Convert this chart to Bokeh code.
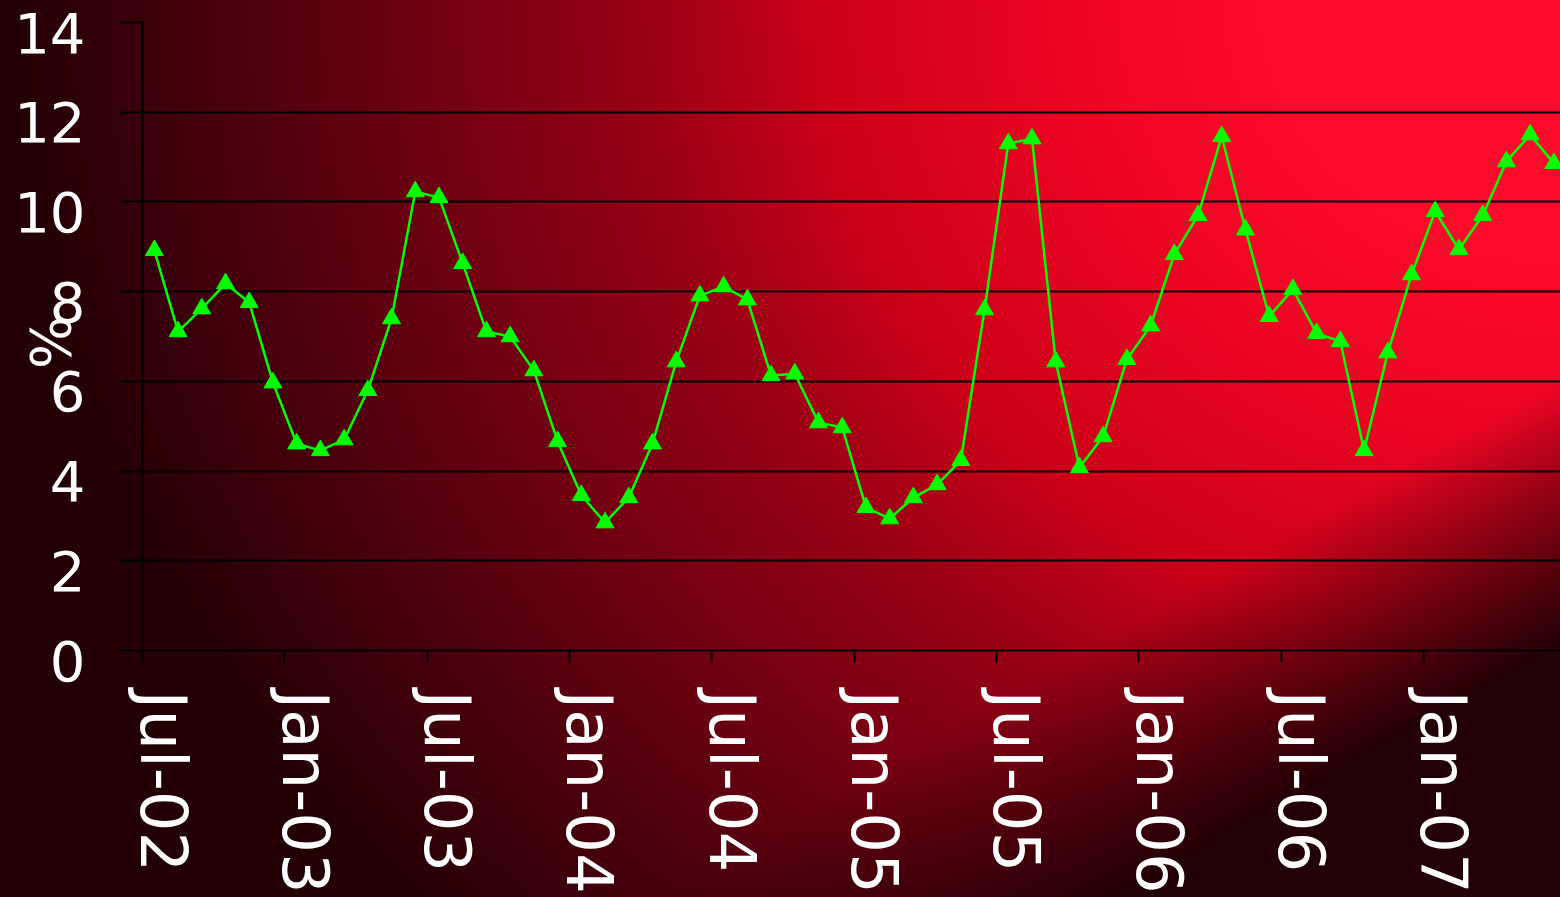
from bokeh.plotting import figure
from bokeh.models import Range1d, LinearAxis, FixedTicker, Grid
from bokeh.embed import file_html
from bokeh.resources import INLINE

months = [
    "Jul-02", "Aug-02", "Sep-02", "Oct-02", "Nov-02", "Dec-02",
    "Jan-03", "Feb-03", "Mar-03", "Apr-03", "May-03", "Jun-03",
    "Jul-03", "Aug-03", "Sep-03", "Oct-03", "Nov-03", "Dec-03",
    "Jan-04", "Feb-04", "Mar-04", "Apr-04", "May-04", "Jun-04",
    "Jul-04", "Aug-04", "Sep-04", "Oct-04", "Nov-04", "Dec-04",
    "Jan-05", "Feb-05", "Mar-05", "Apr-05", "May-05", "Jun-05",
    "Jul-05", "Aug-05", "Sep-05", "Oct-05", "Nov-05", "Dec-05",
    "Jan-06", "Feb-06", "Mar-06", "Apr-06", "May-06", "Jun-06",
    "Jul-06", "Aug-06", "Sep-06", "Oct-06", "Nov-06", "Dec-06",
    "Jan-07", "Feb-07", "Mar-07", "Apr-07", "May-07", "Jun-07",
]
rate = [
    8.92, 7.11, 7.62, 8.18, 7.76, 5.97,
    4.61, 4.46, 4.70, 5.80, 7.40, 10.23,
    10.10, 8.63, 7.11, 7.00, 6.24, 4.66,
    3.46, 2.85, 3.41, 4.61, 6.44, 7.91,
    8.11, 7.82, 6.13, 6.17, 5.08, 4.97,
    3.19, 2.94, 3.41, 3.70, 4.24, 7.60,
    11.30, 11.41, 6.44, 4.08, 4.77, 6.49,
    7.24, 8.83, 9.70, 11.46, 9.38, 7.45,
    8.05, 7.07, 6.89, 4.46, 6.64, 8.38,
    9.79, 8.94, 9.70, 10.90, 11.50, 10.86,
]
tick_months = ["Jul-02", "Jan-03", "Jul-03", "Jan-04", "Jul-04",
               "Jan-05", "Jul-05", "Jan-06", "Jul-06", "Jan-07"]
y_ticks = [0, 2, 4, 6, 8, 10, 12, 14]

x = [i + 0.5 for i in range(len(months))]
tick_pos = [months.index(m) for m in tick_months]

W, H = 1560, 897
FRAME_W = 1418
PX_PER_MONTH = 23.72
X_END = FRAME_W / PX_PER_MONTH
PX_PER_UNIT = 44.86
EXTRA_BOTTOM_PX = 12
Y_START = -EXTRA_BOTTOM_PX / PX_PER_UNIT
FONT = "DejaVu Sans"

p = figure(width=W, height=H, output_backend="svg", toolbar_location=None,
           x_range=Range1d(0, X_END), y_range=Range1d(Y_START, 14),
           x_axis_type=None, y_axis_type=None,
           min_border_left=142, min_border_right=0,
           min_border_top=22, min_border_bottom=235)
p.background_fill_color = None
p.border_fill_color = None
p.outline_line_color = None
p.styles = {
    "background": (
        "linear-gradient(to bottom right, rgba(34,0,5,0) 0%, rgba(34,0,5,0) 71%, rgba(34,0,5,1) 86%), "
        "radial-gradient(ellipse 1600px 1400px at 100% 0%, #ff0a2a 0%, #ff0a2a 18%, #f20525 28%, "
        "#cc0018 46%, #9a0015 57%, #5a000f 78%, #220004 97%)"
    )
}

# label ranges: tick labels sit slightly right of / below their ticks
dx = 20 / PX_PER_MONTH
dy = 10 / PX_PER_UNIT
p.extra_x_ranges = {"xlab": Range1d(-dx, X_END - dx)}
p.extra_y_ranges = {"ylab": Range1d(Y_START + dy, 14 + dy)}

# main x axis: line + ticks at y = 0
xa = LinearAxis(ticker=FixedTicker(ticks=tick_pos, minor_ticks=[]),
                fixed_location=0,
                axis_line_color="black", axis_line_width=2,
                major_tick_line_color="black", major_tick_line_width=2,
                major_tick_in=0, major_tick_out=18,
                major_label_text_color=None, major_label_text_font_size="0px",
                major_label_overrides={t: "" for t in tick_pos},
                major_label_standoff=0)
p.add_layout(xa, "below")

xl = LinearAxis(x_range_name="xlab",
                ticker=FixedTicker(ticks=tick_pos, minor_ticks=[]),
                major_label_overrides={t: m for t, m in zip(tick_pos, tick_months)},
                axis_line_color=None, major_tick_line_color=None,
                major_tick_in=0, major_tick_out=0,
                major_label_orientation="vertical",
                major_label_text_font=FONT, major_label_text_font_size="64px",
                major_label_text_color="white", major_label_standoff=28)
p.add_layout(xl, "below")

# main y axis: line + ticks
ya = LinearAxis(ticker=FixedTicker(ticks=y_ticks, minor_ticks=[]),
                axis_line_color="black", axis_line_width=2,
                major_tick_line_color="black", major_tick_line_width=2,
                major_tick_in=0, major_tick_out=23,
                major_label_text_color=None, major_label_text_font_size="0px",
                major_label_overrides={t: "" for t in y_ticks},
                major_label_standoff=0)
p.add_layout(ya, "left")

yl = LinearAxis(y_range_name="ylab",
                ticker=FixedTicker(ticks=y_ticks, minor_ticks=[]),
                axis_line_color=None, major_tick_line_color=None,
                major_tick_in=0, major_tick_out=0,
                major_label_text_font=FONT, major_label_text_font_size="56px",
                major_label_text_color="white", major_label_standoff=34,
                axis_label="%", axis_label_text_font=FONT,
                axis_label_text_font_size="56px", axis_label_text_color="white",
                axis_label_text_font_style="normal", axis_label_standoff=-72)
p.add_layout(yl, "left")

p.add_layout(Grid(dimension=1, ticker=FixedTicker(ticks=y_ticks[1:]),
                  grid_line_color="black", grid_line_width=2))

p.line(x, rate, line_color="#00ff00", line_width=2.5)
p.scatter(x, rate, marker="triangle", size=18,
          fill_color="#00ff00", line_color="#00ff00")

open("out.html", "w").write(file_html(p, INLINE))
